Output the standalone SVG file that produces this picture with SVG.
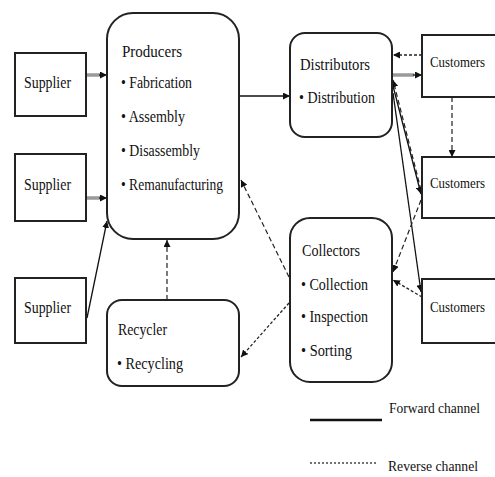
<svg xmlns="http://www.w3.org/2000/svg" width="495" height="477" viewBox="0 0 495 477">
<defs>
<marker id="ah" viewBox="0 0 10 10" refX="10" refY="5" markerWidth="7" markerHeight="7" markerUnits="userSpaceOnUse" orient="auto">
<path d="M0,0 L10,5 L0,10 Z" fill="#111"/>
</marker>
</defs>
<style>
.box{fill:#fff;stroke:#222;stroke-width:2}
.t{font-family:"Liberation Serif","Times New Roman",serif;font-size:17px;fill:#111}
.c{font-size:14.5px}
.l{font-size:14px}
.fw{fill:none;stroke:#111;stroke-width:1.3}
.fg{fill:none;stroke:#999;stroke-width:3.5}
.rv{fill:none;stroke:#222;stroke-width:1.3;stroke-dasharray:3,2}
.rd{fill:none;stroke:#222;stroke-width:1.2;stroke-dasharray:5,3}
</style>
<rect width="495" height="477" fill="#fff"/>

<g id="connectors">
<line class="fg" x1="86" y1="75" x2="100" y2="75"/>
<line class="fw" x1="99" y1="75" x2="107" y2="75" marker-end="url(#ah)"/>
<line class="fg" x1="86" y1="198" x2="100" y2="198"/>
<line class="fw" x1="99" y1="198" x2="107" y2="198" marker-end="url(#ah)"/>
<line class="fw" x1="87" y1="318" x2="107" y2="221" marker-end="url(#ah)"/>
<line class="fw" x1="239" y1="96" x2="290" y2="96" marker-end="url(#ah)"/>
<line class="rv" x1="422" y1="55" x2="393" y2="55" marker-end="url(#ah)"/>
<line class="fg" x1="392" y1="75" x2="414" y2="75"/>
<line class="fw" x1="413" y1="75" x2="422" y2="75" marker-end="url(#ah)"/>
<line class="rd" x1="452" y1="97" x2="452" y2="157" marker-end="url(#ah)"/>
<line class="rd" x1="421" y1="190" x2="393" y2="80" marker-end="url(#ah)"/>
<line class="fw" x1="393" y1="86" x2="421" y2="194" marker-end="url(#ah)"/>
<line class="fw" x1="393" y1="93" x2="421" y2="292" marker-end="url(#ah)"/>
<line class="rd" x1="421" y1="200" x2="393" y2="272" marker-end="url(#ah)"/>
<line class="rv" x1="422" y1="297" x2="393" y2="280" marker-end="url(#ah)"/>
<line class="rd" x1="289" y1="277" x2="241" y2="180" marker-end="url(#ah)"/>
<line class="rv" x1="289" y1="303" x2="241" y2="357" marker-end="url(#ah)"/>
<line class="rd" x1="167" y1="300" x2="167" y2="240" marker-end="url(#ah)"/>
</g>

<g id="supplier1">
<rect class="box" x="15" y="53" width="71" height="63"/>
<text class="t" x="24" y="88" textLength="47" lengthAdjust="spacingAndGlyphs">Supplier</text>
</g>
<g id="supplier2">
<rect class="box" x="15" y="154" width="71" height="67"/>
<text class="t" x="24" y="190" textLength="47" lengthAdjust="spacingAndGlyphs">Supplier</text>
</g>
<g id="supplier3">
<rect class="box" x="15" y="278" width="71" height="65"/>
<text class="t" x="24" y="313" textLength="47" lengthAdjust="spacingAndGlyphs">Supplier</text>
</g>

<g id="producers">
<rect class="box" x="107" y="13" width="132" height="226" rx="26" ry="26"/>
<text class="t" x="122" y="57" textLength="60" lengthAdjust="spacingAndGlyphs">Producers</text>
<text class="t" x="121" y="88" textLength="71" lengthAdjust="spacingAndGlyphs">• Fabrication</text>
<text class="t" x="121" y="122" textLength="64" lengthAdjust="spacingAndGlyphs">• Assembly</text>
<text class="t" x="121" y="156" textLength="79" lengthAdjust="spacingAndGlyphs">• Disassembly</text>
<text class="t" x="121" y="190" textLength="102" lengthAdjust="spacingAndGlyphs">• Remanufacturing</text>
</g>

<g id="distributors">
<rect class="box" x="290" y="33" width="102" height="104" rx="15" ry="15"/>
<text class="t" x="300" y="70" textLength="70" lengthAdjust="spacingAndGlyphs">Distributors</text>
<text class="t" x="299" y="103" textLength="76" lengthAdjust="spacingAndGlyphs">• Distribution</text>
</g>

<g id="customers1">
<path class="box" d="M495,35 H422 V97 H495"/>
<text class="t c" x="430" y="67" textLength="55" lengthAdjust="spacingAndGlyphs">Customers</text>
</g>
<g id="customers2">
<path class="box" d="M495,157 H422 V218 H495"/>
<text class="t c" x="430" y="188" textLength="55" lengthAdjust="spacingAndGlyphs">Customers</text>
</g>
<g id="customers3">
<path class="box" d="M495,279 H422 V343 H495"/>
<text class="t c" x="430" y="312" textLength="55" lengthAdjust="spacingAndGlyphs">Customers</text>
</g>

<g id="collectors">
<rect class="box" x="290" y="218" width="102" height="164" rx="20" ry="20"/>
<text class="t" x="302" y="256" textLength="58" lengthAdjust="spacingAndGlyphs">Collectors</text>
<text class="t" x="301" y="290" textLength="67" lengthAdjust="spacingAndGlyphs">• Collection</text>
<text class="t" x="301" y="322" textLength="67" lengthAdjust="spacingAndGlyphs">• Inspection</text>
<text class="t" x="301" y="356" textLength="51" lengthAdjust="spacingAndGlyphs">• Sorting</text>
</g>

<g id="recycler">
<rect class="box" x="107" y="300" width="132" height="86" rx="15" ry="15"/>
<text class="t" x="118" y="335" textLength="49" lengthAdjust="spacingAndGlyphs">Recycler</text>
<text class="t" x="117" y="369" textLength="66" lengthAdjust="spacingAndGlyphs">• Recycling</text>
</g>

<g id="legend">
<line x1="310" y1="420" x2="382" y2="420" stroke="#111" stroke-width="2.5"/>
<text class="t l" x="389" y="413" textLength="91" lengthAdjust="spacingAndGlyphs">Forward channel</text>
<line x1="310" y1="463" x2="378" y2="463" stroke="#444" stroke-width="1.5" stroke-dasharray="2,2"/>
<text class="t l" x="388" y="471" textLength="90" lengthAdjust="spacingAndGlyphs">Reverse channel</text>
</g>
</svg>
